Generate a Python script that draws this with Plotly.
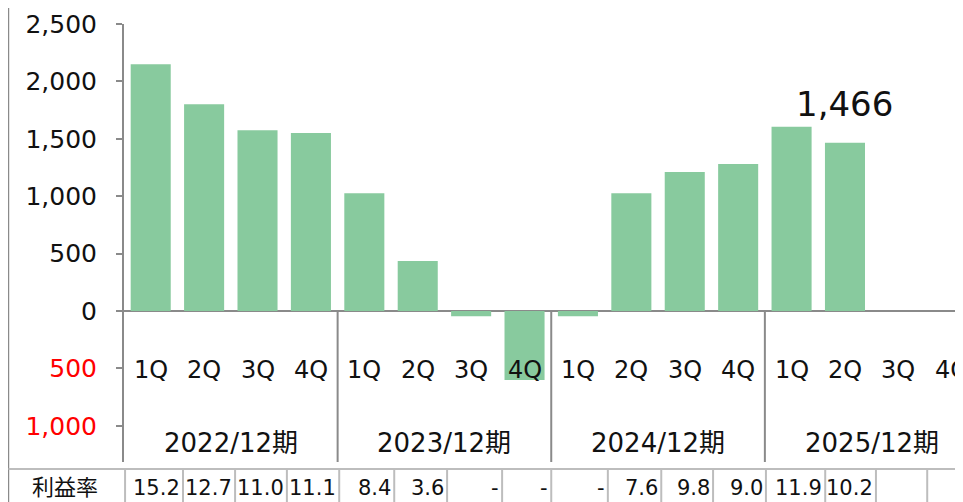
import plotly.graph_objects as go

# quarterly operating profit (million yen) and profit margin (%)
quarters = ["1Q", "2Q", "3Q", "4Q"] * 4
periods = ["2022/12期", "2023/12期", "2024/12期", "2025/12期"]
profit = [2150, 1800, 1575, 1550, 1025, 435, -45, -600, -45, 1025, 1210, 1280, 1605, 1466, None, None]
margin = ["15.2", "12.7", "11.0", "11.1", "8.4", "3.6", "-", "-", "-", "7.6", "9.8", "9.0", "11.9", "10.2", "", ""]
ytick_vals = [2500, 2000, 1500, 1000, 500, 0, -500, -1000]
ytick_text = ["2,500", "2,000", "1,500", "1,000", "500", "0",
              '<span style="color:red">500</span>', '<span style="color:red">1,000</span>']
row_label = "利益率"
callout = "1,466"

FONT = "DejaVu Sans, Noto Sans CJK JP, sans-serif"
GRAY = "#8a8a8a"
LIGHT = "#bdbdbd"
ROW_Y = -0.0913  # paper y of the figure bottom, margin row sits on it
# table cell edges (in category units); the source table is not quite aligned to the bars
CELL_EDGES = [-0.48, 0.605, 1.58, 2.55, 3.53, 4.56, 5.55, 6.58, 7.50, 8.56, 9.56,
              10.53, 11.52, 12.63, 13.58, 14.54, 15.49]

x = list(range(len(quarters)))

fig = go.Figure()
fig.add_trace(go.Bar(
    x=x, y=profit,
    marker=dict(color="#88CA9E", line=dict(width=0)),
    hoverinfo="skip",
))

annotations = []
# quarter labels and period labels below the zero line
for i, q in enumerate(quarters):
    annotations.append(dict(x=i, y=-514, xref="x", yref="y", text=q, showarrow=False,
                            font=dict(size=24, color="#111")))
for g, p in enumerate(periods):
    annotations.append(dict(x=g * 4 + 1.5, y=-1150, xref="x", yref="y", text=p, showarrow=False,
                            font=dict(size=26, color="#111")))
# margin row
annotations.append(dict(x=-0.0703, y=ROW_Y, xref="paper", yref="paper", text=row_label,
                        xanchor="center", yanchor="bottom", showarrow=False,
                        font=dict(size=22, color="#111")))
for i, m in enumerate(margin):
    if m:
        annotations.append(dict(x=CELL_EDGES[i + 1], y=ROW_Y, xref="x", yref="paper", text=m,
                                xanchor="right", yanchor="bottom", xshift=-1, showarrow=False,
                                font=dict(size=21, color="#111")))
# callout value above 2025 2Q
annotations.append(dict(x=13, y=profit[13], xref="x", yref="y", text=callout,
                        yanchor="bottom", yshift=17, showarrow=False,
                        font=dict(size=34, color="#111")))

shapes = []
# period separators between zero line and axis bottom
for b in [3.5, 7.5, 11.5]:
    shapes.append(dict(type="line", xref="x", yref="y", x0=b, x1=b, y0=0, y1=-1315,
                       line=dict(color=GRAY, width=2)))
# outer left border
shapes.append(dict(type="line", xref="paper", yref="paper", x0=-0.1377, x1=-0.1377, y0=-0.1, y1=1.06,
                   line=dict(color=GRAY, width=1.5)))
# table top line
shapes.append(dict(type="line", xref="paper", yref="paper", x0=-0.1377, x1=1.01, y0=-0.016, y1=-0.016,
                   line=dict(color=LIGHT, width=2)))
# table cell dividers
for e in CELL_EDGES:
    shapes.append(dict(type="line", xref="x", yref="paper", x0=e, x1=e, y0=-0.016, y1=-0.1,
                       line=dict(color=LIGHT, width=2)))

fig.update_layout(
    width=955, height=494,
    margin=dict(l=116, r=0, t=16, b=40),
    paper_bgcolor="white", plot_bgcolor="white",
    font=dict(family=FONT, color="#111"),
    showlegend=False,
    bargap=0.25,
    annotations=annotations,
    shapes=shapes,
    xaxis=dict(range=[-0.5, 15.21], showticklabels=False, showgrid=False, zeroline=False,
               showline=False, ticks="", fixedrange=True),
    yaxis=dict(range=[-1315, 2500], tickvals=ytick_vals, ticktext=ytick_text,
               showgrid=False, zeroline=True, zerolinecolor=GRAY, zerolinewidth=2,
               showline=True, linecolor=GRAY, linewidth=2,
               ticks="outside", ticklen=6, tickcolor=GRAY, tickwidth=1.5,
               ticklabelstandoff=14, tickfont=dict(size=25, color="#111")),
)

fig.write_html("out.html")
